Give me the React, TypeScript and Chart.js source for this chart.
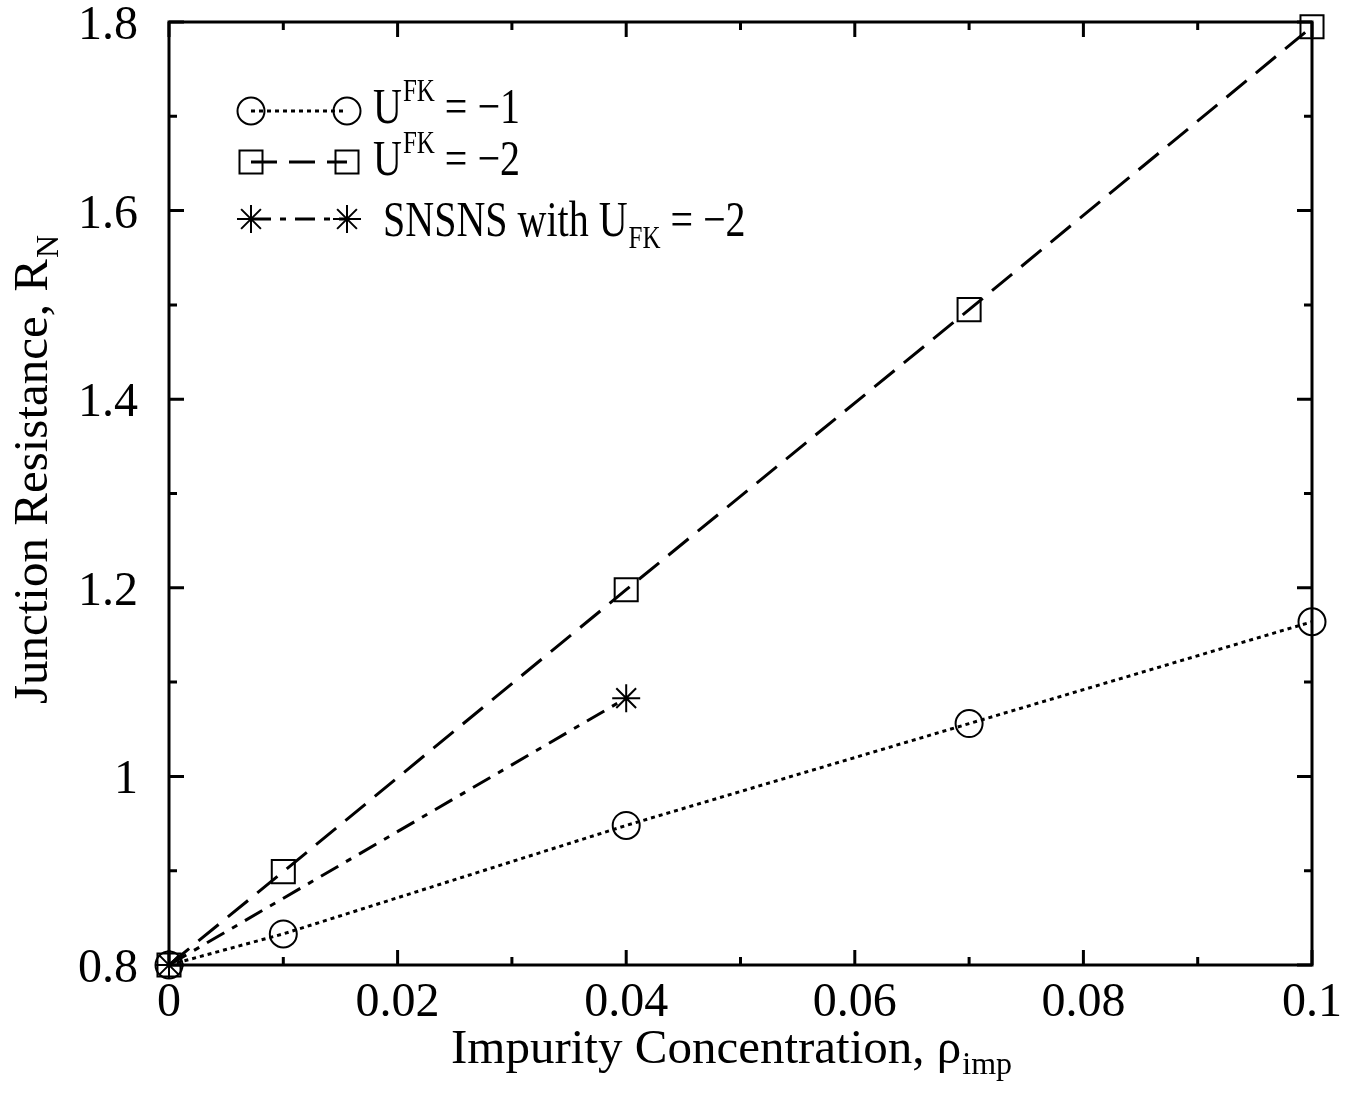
import React, { useEffect, useRef } from "react";
import { Chart, registerables } from "chart.js";

Chart.register(...registerables);

// ---- data ----
const circleX = [0, 0.01, 0.04, 0.07, 0.1];
const circleY = [0.8, 0.833, 0.948, 1.056, 1.164];
const squareX = [0, 0.01, 0.04, 0.07, 0.1];
const squareY = [0.8, 0.899, 1.198, 1.495, 1.795];
const starX = [0, 0.04];
const starY = [0.8, 1.083];

const xMajorTicks = [0, 0.02, 0.04, 0.06, 0.08, 0.1];
const xMajorLabels = ["0", "0.02", "0.04", "0.06", "0.08", "0.1"];
const xMinorTicks = [0.01, 0.03, 0.05, 0.07, 0.09];
const yMajorTicks = [0.8, 1.0, 1.2, 1.4, 1.6, 1.8];
const yMajorLabels = ["0.8", "1", "1.2", "1.4", "1.6", "1.8"];
const yMinorTicks = [0.9, 1.1, 1.3, 1.5, 1.7];

const FONT = "'Liberation Serif', 'Times New Roman', serif";

const circleDash = [4, 4];
const squareDash = [26, 12];
const starDash = [20, 9, 6, 9];

function pts(xs: number[], ys: number[]) {
  return xs.map((x, i) => ({ x, y: ys[i] }));
}

function drawStar(ctx: CanvasRenderingContext2D, x: number, y: number, r: number) {
  ctx.beginPath();
  ctx.moveTo(x - r, y);
  ctx.lineTo(x + r, y);
  ctx.moveTo(x, y - r);
  ctx.lineTo(x, y + r);
  const d = r * Math.SQRT1_2;
  ctx.moveTo(x - d, y - d);
  ctx.lineTo(x + d, y + d);
  ctx.moveTo(x - d, y + d);
  ctx.lineTo(x + d, y - d);
  ctx.stroke();
}

const STRETCH = 1.25;

function stretchedText(ctx: CanvasRenderingContext2D, text: string, x: number, base: number, size: number) {
  ctx.save();
  ctx.translate(x, base);
  ctx.scale(1, STRETCH);
  ctx.font = `${size}px ${FONT}`;
  ctx.fillText(text, 0, 0);
  const w = ctx.measureText(text).width;
  ctx.restore();
  return w;
}

const framePlugin = {
  id: "framePlugin",
  afterDraw(chart: any) {
    const ctx: CanvasRenderingContext2D = chart.ctx;
    const { left, right, top, bottom } = chart.chartArea;
    const xs = chart.scales.x;
    const ys = chart.scales.y;
    ctx.save();
    ctx.strokeStyle = "#000";
    ctx.fillStyle = "#000";
    ctx.setLineDash([]);
    ctx.lineWidth = 3;
    ctx.strokeRect(left, top, right - left, bottom - top);

    const major = 15;
    const minor = 8;
    ctx.beginPath();
    const xt = (v: number, len: number) => {
      const px = xs.getPixelForValue(v);
      ctx.moveTo(px, bottom);
      ctx.lineTo(px, bottom - len);
      ctx.moveTo(px, top);
      ctx.lineTo(px, top + len);
    };
    const yt = (v: number, len: number) => {
      const py = ys.getPixelForValue(v);
      ctx.moveTo(left, py);
      ctx.lineTo(left + len, py);
      ctx.moveTo(right, py);
      ctx.lineTo(right - len, py);
    };
    xMajorTicks.forEach((v) => xt(v, major));
    xMinorTicks.forEach((v) => xt(v, minor));
    yMajorTicks.forEach((v) => yt(v, major));
    yMinorTicks.forEach((v) => yt(v, minor));
    ctx.stroke();

    // tick labels
    ctx.font = `48px ${FONT}`;
    ctx.textBaseline = "alphabetic";
    ctx.textAlign = "center";
    xMajorTicks.forEach((v, i) => {
      ctx.fillText(xMajorLabels[i], xs.getPixelForValue(v), bottom + 51);
    });
    ctx.textAlign = "right";
    yMajorTicks.forEach((v, i) => {
      ctx.fillText(yMajorLabels[i], left - 31, ys.getPixelForValue(v) + 17);
    });

    // x title
    ctx.textAlign = "left";
    const xMain = "Impurity Concentration, ρ";
    const xSub = "imp";
    ctx.font = `49px ${FONT}`;
    const wMain = ctx.measureText(xMain).width;
    ctx.font = `32px ${FONT}`;
    const wSub = ctx.measureText(xSub).width;
    const xStart = 731 - (wMain + wSub) / 2;
    ctx.font = `49px ${FONT}`;
    ctx.fillText(xMain, xStart, 1063);
    ctx.font = `32px ${FONT}`;
    ctx.fillText(xSub, xStart + wMain + 1, 1074);

    // y title
    const yMain = "Junction Resistance, R";
    const ySub = "N";
    ctx.font = `49px ${FONT}`;
    const wyMain = ctx.measureText(yMain).width;
    ctx.font = `32px ${FONT}`;
    const wySub = ctx.measureText(ySub).width;
    ctx.save();
    ctx.translate(47, 470);
    ctx.rotate(-Math.PI / 2);
    const yStart = -(wyMain + wySub) / 2;
    ctx.font = `49px ${FONT}`;
    ctx.fillText(yMain, yStart, 0);
    ctx.font = `32px ${FONT}`;
    ctx.fillText(ySub, yStart + wyMain + 1, 11);
    ctx.restore();

    // legend
    const lx1 = 251;
    const lx2 = 347;
    const rows = [111, 162, 219];
    ctx.lineWidth = 3;
    ctx.setLineDash(circleDash);
    ctx.beginPath();
    ctx.moveTo(lx1, rows[0]);
    ctx.lineTo(lx2, rows[0]);
    ctx.stroke();
    ctx.setLineDash(squareDash);
    ctx.beginPath();
    ctx.moveTo(lx1, rows[1]);
    ctx.lineTo(lx2, rows[1]);
    ctx.stroke();
    ctx.setLineDash(starDash);
    ctx.beginPath();
    ctx.moveTo(lx1, rows[2]);
    ctx.lineTo(lx2, rows[2]);
    ctx.stroke();
    ctx.setLineDash([]);
    ctx.lineWidth = 2;
    [lx1, lx2].forEach((x) => {
      ctx.beginPath();
      ctx.arc(x, rows[0], 13.5, 0, Math.PI * 2);
      ctx.stroke();
      ctx.strokeRect(x - 11.5, rows[1] - 11.5, 23, 23);
      drawStar(ctx, x, rows[2], 14);
    });

    // legend text (vertically stretched like the reference)
    ctx.textAlign = "left";
    const bases = [123, 175, 236];
    // row 1
    let cx = 373;
    cx += stretchedText(ctx, "U", cx, bases[0], 40);
    cx += stretchedText(ctx, "FK", cx + 1, bases[0] - 22, 25) + 1;
    stretchedText(ctx, " = −1", cx, bases[0], 40);
    // row 2
    cx = 373;
    cx += stretchedText(ctx, "U", cx, bases[1], 40);
    cx += stretchedText(ctx, "FK", cx + 1, bases[1] - 22, 25) + 1;
    stretchedText(ctx, " = −2", cx, bases[1], 40);
    // row 3
    cx = 383;
    cx += stretchedText(ctx, "SNSNS with U", cx, bases[2], 40);
    cx += stretchedText(ctx, "FK", cx + 1, bases[2] + 12, 25) + 1;
    stretchedText(ctx, " = −2", cx, bases[2], 40);

    ctx.restore();
  },
};

export default function App() {
  const ref = useRef<HTMLCanvasElement | null>(null);
  useEffect(() => {
    if (!ref.current) return;
    const chart = new Chart(ref.current, {
      type: "scatter",
      data: {
        datasets: [
          {
            label: "U^FK = -1",
            data: pts(circleX, circleY),
            showLine: true,
            borderColor: "#000",
            borderWidth: 3,
            borderDash: circleDash,
            pointStyle: "circle",
            pointRadius: 13.5,
            pointBorderWidth: 2,
            pointBorderColor: "#000",
            pointBackgroundColor: "rgba(0,0,0,0)",
            clip: false,
          } as any,
          {
            label: "U^FK = -2",
            data: pts(squareX, squareY),
            showLine: true,
            borderColor: "#000",
            borderWidth: 3,
            borderDash: squareDash,
            pointStyle: "rect",
            pointRadius: 16.3,
            pointBorderWidth: 2,
            pointBorderColor: "#000",
            pointBackgroundColor: "rgba(0,0,0,0)",
            clip: false,
          } as any,
          {
            label: "SNSNS with U_FK = -2",
            data: pts(starX, starY),
            showLine: true,
            borderColor: "#000",
            borderWidth: 3,
            borderDash: starDash,
            pointStyle: "star",
            pointRadius: 14,
            pointBorderWidth: 2,
            pointBorderColor: "#000",
            pointBackgroundColor: "rgba(0,0,0,0)",
            clip: false,
          } as any,
        ],
      },
      options: {
        animation: false,
        responsive: false,
        devicePixelRatio: 1,
        layout: { padding: { left: 169, top: 22, right: 59, bottom: 148 } },
        plugins: { legend: { display: false }, tooltip: { enabled: false } },
        scales: {
          x: { type: "linear", min: 0, max: 0.1, display: false },
          y: { type: "linear", min: 0.8, max: 1.8, display: false },
        },
      },
      plugins: [framePlugin],
    });
    return () => chart.destroy();
  }, []);
  return (
    <div style={{ position: "fixed", left: 0, top: 0, width: 1371, height: 1113, background: "#fff" }}>
      <canvas ref={ref} width={1371} height={1113} style={{ width: 1371, height: 1113 }} />
    </div>
  );
}
